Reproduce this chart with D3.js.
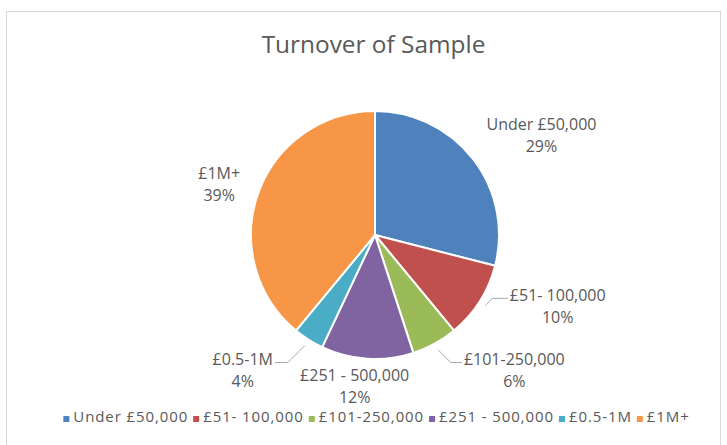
<!DOCTYPE html>
<html>
<head>
<meta charset="utf-8">
<script src="https://cdn.jsdelivr.net/npm/d3@7/dist/d3.min.js"></script>
<style>
  html, body { margin: 0; padding: 0; background: #fff; }
  svg { display: block; }
  text { font-family: "Open Sans", "Liberation Sans", sans-serif; fill: #595959; }
</style>
</head>
<body>
<svg id="chart" width="727" height="445"></svg>
<script>
// Turnover bands and their share of the sample (%)
const categories = ["Under £50,000", "£51- 100,000", "£101-250,000", "£251 - 500,000", "£0.5-1M", "£1M+"];
const shares = [29, 10, 6, 12, 4, 39];
const colors = ["#4F81BD", "#C0504D", "#9BBB59", "#8064A2", "#4BACC6", "#F79646"];
const title = "Turnover of Sample";

// Label placement around the pie: [angle offset from slice middle (deg), distance from centre]
const labelPlacement = [[6.9, 194], [-11.2, 196], [-17.1, 194], [4.1, 152], [12, 189], [-1.6, 164]];
// Slices whose labels get a leader line
const leaderSlices = [1, 2, 4];

const cx = 375, cy = 235, R = 124;

const svg = d3.select("#chart");

// Chart frame
svg.append("rect")
  .attr("x", 6.5).attr("y", 11.5)
  .attr("width", 714).attr("height", 445)
  .attr("fill", "#fff").attr("stroke", "#d9d9d9").attr("stroke-width", 1);

// Title
svg.append("text")
  .attr("x", 373.5).attr("y", 53)
  .attr("text-anchor", "middle")
  .style("font-size", "24.4px")
  .text(title);

const data = categories.map((c, i) => ({ name: c, value: shares[i], color: colors[i] }));
const pie = d3.pie().sort(null).value(d => d.value);
const arcs = pie(data);
const arc = d3.arc().innerRadius(0).outerRadius(R);

const g = svg.append("g").attr("transform", `translate(${cx},${cy})`);

g.selectAll("path.slice")
  .data(arcs)
  .join("path")
  .attr("class", "slice")
  .attr("d", arc)
  .attr("fill", d => d.data.color)
  .attr("stroke", "#fff")
  .attr("stroke-width", 2)
  .attr("stroke-linejoin", "round");

// Point on a circle of radius r at a given angle (0 = 12 o'clock, clockwise)
const polar = (a, r) => [Math.sin(a) * r, -Math.cos(a) * r];

const lineH = 22;
const labelG = g.append("g");
arcs.forEach((d, i) => {
  const mid = (d.startAngle + d.endAngle) / 2;
  const [off, dist] = labelPlacement[i];
  const [lx, ly] = polar(mid + off * Math.PI / 180, dist);
  const t = labelG.append("text")
    .attr("text-anchor", "middle")
    .style("font-size", "16px");
  t.append("tspan").attr("x", lx).attr("y", ly - lineH / 2 + 6).text(d.data.name);
  t.append("tspan").attr("x", lx).attr("y", ly + lineH / 2 + 6).text(d3.format(".0%")(d.data.value / 100));

  if (leaderSlices.includes(i)) {
    const w = t.select("tspan").node().getComputedTextLength();
    const right = lx > 0;
    const ex = right ? lx - w / 2 - 2 : lx + w / 2 + 2;
    const ey = ly - lineH / 2 + 3.5;
    const [sx, sy] = polar(mid, R + 7);
    const dy = Math.abs(ey - sy);
    const bx = right ? Math.min(sx + dy, ex - 4) : Math.max(sx - dy, ex + 4);
    labelG.append("path")
      .attr("d", d3.line()([[sx, sy], [bx, ey], [ex, ey]]))
      .attr("fill", "none")
      .attr("stroke", "#a6a6b6")
      .attr("stroke-width", 1);
  }
});

// Legend along the bottom, centred under the pie
const legend = svg.append("g");
const items = legend.selectAll("g.item").data(data).join("g").attr("class", "item");
items.append("rect").attr("width", 6).attr("height", 6).attr("y", -6).attr("fill", d => d.color);
items.append("text").attr("x", 10).attr("y", 0)
  .style("font-size", "15px").style("letter-spacing", "0.9px")
  .text(d => d.name);
let xPos = 0;
items.each(function () {
  const w = d3.select(this).select("text").node().getComputedTextLength();
  d3.select(this).attr("transform", `translate(${xPos},0)`);
  xPos += 10 + w + 5;
});
const total = xPos - 5;
legend.attr("transform", `translate(${(376.5 - total / 2)},${422})`);
</script>
</body>
</html>
